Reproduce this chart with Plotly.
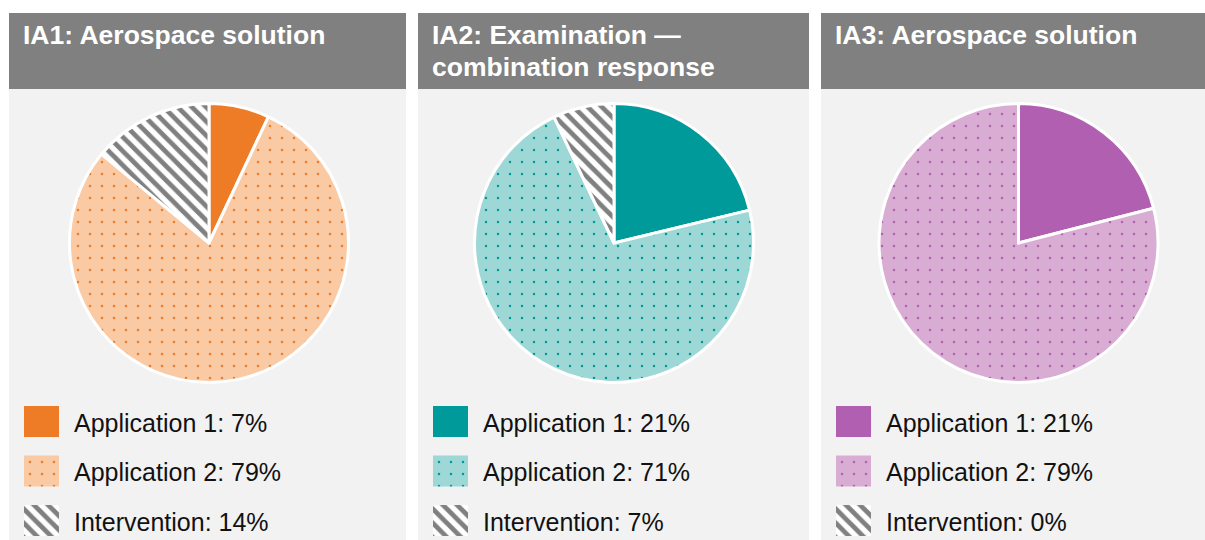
import plotly.graph_objects as go

# ---------------- data ----------------
panel_titles = [["IA1: Aerospace solution"],
                ["IA2: Examination —", "combination response"],
                ["IA3: Aerospace solution"]]
labels = ["Application 1", "Application 2", "Intervention"]
ia1_values = [7, 79, 14]
ia2_values = [21, 71, 7]
ia3_values = [21, 79, 0]
panel_values = [ia1_values, ia2_values, ia3_values]

main_colors = ["#EE7B25", "#009A9A", "#B160B1"]
light_colors = ["#F9CAA4", "#9DD8D6", "#D9ADD3"]
STRIPE = "#808080"

# ---------------- layout constants (pixels) ----------------
W, H = 1205, 540
PANEL_X0 = [9, 418, 821]
PANEL_X1 = [406, 809, 1205]
HEAD_Y0, HEAD_Y1 = 13, 89
PIE_CX = [209, 614, 1018.5]
PIE_CY = 243
PIE_R = 139.5
SW_X_OFF = 15          # swatch left offset from panel left
SW_W = 35
SW_H = 31
ROW0 = 421.5
ROW_PITCH = 49.5
TEXT_OFF = 48
LEG_TOP = 396
FONT = "Liberation Sans, Arial, sans-serif"


def px(x):
    return x / W


def py(y):
    return 1 - y / H


def patterns(mc, lc):
    return [
        dict(shape="", fgcolor=mc, bgcolor=mc),
        dict(shape=".", fgcolor=mc, bgcolor=lc, size=12, solidity=0.035, fillmode="replace"),
        dict(shape="\\", fgcolor=STRIPE, bgcolor="white", size=10, solidity=0.48,
             fillmode="replace"),
    ]


fig = go.Figure()
shapes = []
annotations = []

for k in range(3):
    x0, x1 = PANEL_X0[k], PANEL_X1[k]
    # header + body
    shapes.append(dict(type="rect", xref="paper", yref="paper",
                       x0=px(x0), x1=px(x1), y0=py(HEAD_Y1), y1=py(HEAD_Y0),
                       fillcolor="#808080", line=dict(width=0), layer="below"))
    shapes.append(dict(type="rect", xref="paper", yref="paper",
                       x0=px(x0), x1=px(x1), y0=py(H), y1=py(HEAD_Y1),
                       fillcolor="#F2F2F2", line=dict(width=0), layer="below"))
    for li, line in enumerate(panel_titles[k]):
        annotations.append(dict(text="<b>%s</b>" % line, xref="paper", yref="paper",
                                x=px(x0 + 12), y=py(35 + li * 32),
                                xanchor="left", yanchor="middle", showarrow=False,
                                font=dict(family=FONT, size=26.5, color="white")))

    vals = panel_values[k]
    mc, lc = main_colors[k], light_colors[k]
    pats = patterns(mc, lc)

    # pie
    fig.add_trace(go.Pie(
        labels=labels, values=vals, sort=False, direction="clockwise", rotation=0,
        textinfo="none", showlegend=False,
        marker=dict(colors=[mc, lc, "white"], line=dict(color="white", width=3),
                    pattern=dict(shape=[p["shape"] for p in pats],
                                 fgcolor=[p["fgcolor"] for p in pats],
                                 bgcolor=[p["bgcolor"] for p in pats],
                                 size=[p.get("size", 10) for p in pats],
                                 solidity=[p.get("solidity", 0.3) for p in pats],
                                 fillmode="replace")),
        domain=dict(x=[px(PIE_CX[k] - PIE_R), px(PIE_CX[k] + PIE_R)],
                    y=[py(PIE_CY + PIE_R), py(PIE_CY - PIE_R)]),
    ))

    # legend swatches as bars (one trace per item)
    ax = "" if k == 0 else str(k + 1)
    legend_text = ["%s: %d%%" % (lab, v) for lab, v in zip(labels, vals)]
    swatch_colors = [mc, lc, "white"]
    for i in range(3):
        fig.add_trace(go.Bar(
            x=[1], y=[i], orientation="h", width=SW_H / ROW_PITCH,
            xaxis="x" + ax, yaxis="y" + ax, showlegend=False, hoverinfo="skip",
            marker=dict(color=swatch_colors[i], line=dict(width=0), pattern=pats[i]),
        ))
    lx0 = x0 + SW_X_OFF
    fig.update_layout(**{
        "xaxis" + ax: dict(domain=[px(lx0), px(lx0 + 350)], range=[0, 350 / SW_W],
                           visible=False, fixedrange=True, anchor="y" + ax),
        "yaxis" + ax: dict(domain=[0, py(LEG_TOP)],
                           range=[(H - ROW0) / ROW_PITCH, (LEG_TOP - ROW0) / ROW_PITCH],
                           visible=False, fixedrange=True, anchor="x" + ax),
    })
    for i, t in enumerate(legend_text):
        annotations.append(dict(text=t, xref="x" + ax, yref="y" + ax,
                                x=TEXT_OFF / SW_W, y=i + 0.03, xanchor="left",
                                yanchor="middle", showarrow=False,
                                font=dict(family=FONT, size=25, color="#111111")))

fig.update_layout(
    width=W, height=H, margin=dict(l=0, r=0, t=0, b=0),
    paper_bgcolor="white", plot_bgcolor="rgba(0,0,0,0)",
    shapes=shapes, annotations=annotations, showlegend=False, barmode="overlay",
)

fig.write_html("out.html")
